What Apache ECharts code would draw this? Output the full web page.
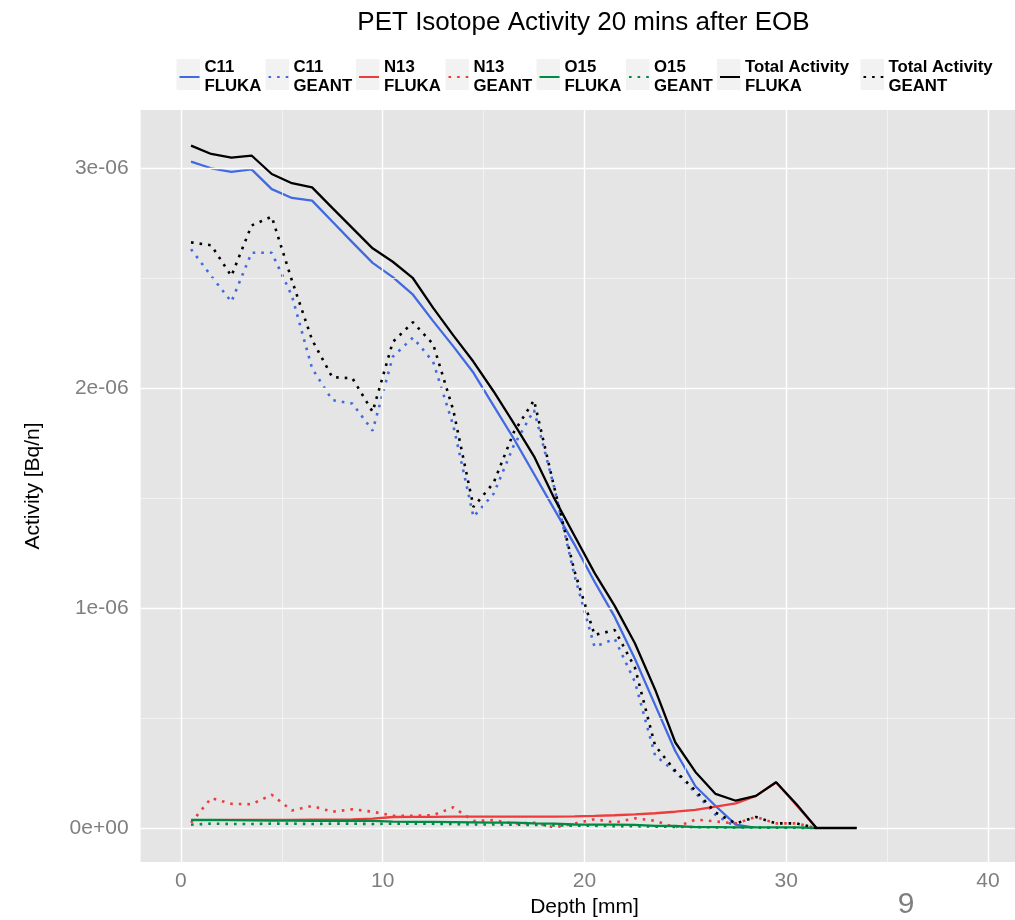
<!DOCTYPE html>
<html>
<head>
<meta charset="utf-8">
<title>PET Isotope Activity 20 mins after EOB</title>
<script src="https://cdn.jsdelivr.net/npm/echarts@6/dist/echarts.min.js"></script>
<style>
  html, body { margin: 0; padding: 0; background: #ffffff; }
  #chart { width: 1015px; height: 920px; }
</style>
</head>
<body>
<div id="chart"></div>
<script>
// Depth bins [mm]
const DEPTH_MM = [0.5, 1.5, 2.5, 3.5, 4.5, 5.5, 6.5, 7.5, 8.5, 9.5, 10.5, 11.5, 12.5, 13.5, 14.5, 15.5, 16.5,
  17.5, 18.5, 19.5, 20.5, 21.5, 22.5, 23.5, 24.5, 25.5, 26.5, 27.5, 28.5, 29.5, 30.5, 31.5, 32.5, 33.5];

// Activity values, in units of 1e-6 Bq/n, one per depth bin
const C11_FLUKA = [3.03, 3.00, 2.984, 2.995, 2.905, 2.865, 2.853, 2.758, 2.663, 2.57, 2.505, 2.425, 2.305,
  2.19, 2.07, 1.92, 1.77, 1.61, 1.45, 1.29, 1.12, 0.96, 0.77, 0.56, 0.35, 0.19, 0.10, 0.015, 0];
const C11_GEANT = [2.632, 2.51, 2.393, 2.616, 2.616, 2.42, 2.09, 1.946, 1.93, 1.807, 2.143, 2.23, 2.12,
  1.83, 1.415, 1.52, 1.74, 1.90, 1.55, 1.15, 0.824, 0.86, 0.665, 0.33, 0.256, 0.16, 0.06, 0.005];
const N13_FLUKA = [0.036, 0.036, 0.037, 0.037, 0.037, 0.037, 0.038, 0.038, 0.039, 0.043, 0.050, 0.051, 0.051,
  0.052, 0.052, 0.052, 0.052, 0.052, 0.052, 0.053, 0.055, 0.058, 0.062, 0.067, 0.074, 0.082, 0.097, 0.112,
  0.146, 0.208, 0.105, 0];
const N13_GEANT = [0.024, 0.136, 0.11, 0.108, 0.151, 0.08, 0.10, 0.074, 0.085, 0.074, 0.056, 0.056, 0.058,
  0.094, 0.032, 0.036, 0.02, 0.024, 0.003, 0.02, 0.04, 0.025, 0.044, 0.033, 0.003, 0.038, 0.03, 0.021,
  0.05, 0.021, 0.021, 0];
const O15_FLUKA = [0.037, 0.037, 0.036, 0.035, 0.034, 0.034, 0.033, 0.033, 0.033, 0.032, 0.029, 0.028, 0.028,
  0.027, 0.026, 0.024, 0.024, 0.021, 0.020, 0.016, 0.015, 0.015, 0.014, 0.010, 0.009, 0.004, 0.004, 0.003,
  0.003, 0.003, 0.003, 0];
const O15_GEANT = [0.015, 0.02, 0.018, 0.018, 0.02, 0.02, 0.018, 0.02, 0.02, 0.018, 0.02, 0.02, 0.019,
  0.018, 0.016, 0.016, 0.015, 0.014, 0.012, 0.01, 0.01, 0.008, 0.008, 0.006, 0.005, 0.004, 0.003, 0.002,
  0.002, 0.001, 0.001, 0];
const TOTAL_FLUKA = [3.103, 3.065, 3.048, 3.058, 2.974, 2.932, 2.913, 2.82, 2.728, 2.636, 2.575, 2.50, 2.365,
  2.24, 2.12, 1.985, 1.84, 1.69, 1.50, 1.33, 1.16, 1.01, 0.84, 0.63, 0.39, 0.255, 0.155, 0.124, 0.146,
  0.208, 0.109, 0, 0, 0];
const TOTAL_GEANT = [2.663, 2.65, 2.51, 2.74, 2.78, 2.49, 2.22, 2.05, 2.045, 1.893, 2.21, 2.30, 2.20,
  1.90, 1.46, 1.57, 1.80, 1.945, 1.55, 1.17, 0.878, 0.90, 0.73, 0.375, 0.26, 0.17, 0.07, 0.021, 0.05,
  0.021, 0.021, 0];

// Axis tick values (y in units of 1e-6 Bq/n)
const X_TICKS = [0, 10, 20, 30, 40];
const X_MINOR = [5, 15, 25, 35];
const Y_TICKS = [0, 1, 2, 3];
const Y_MINOR = [0.5, 1.5, 2.5];

const UNIT = 1e-6;
const FONT = 'Liberation Sans, Arial, sans-serif';

const SERIES = [
  { name: 'C11 FLUKA', values: C11_FLUKA, color: '#4169E1', dotted: false },
  { name: 'C11 GEANT', values: C11_GEANT, color: '#4169E1', dotted: true },
  { name: 'N13 FLUKA', values: N13_FLUKA, color: '#EE3B3B', dotted: false },
  { name: 'N13 GEANT', values: N13_GEANT, color: '#EE3B3B', dotted: true },
  { name: 'O15 FLUKA', values: O15_FLUKA, color: '#008B45', dotted: false },
  { name: 'O15 GEANT', values: O15_GEANT, color: '#008B45', dotted: true },
  { name: 'Total Activity FLUKA', values: TOTAL_FLUKA, color: '#000000', dotted: false },
  { name: 'Total Activity GEANT', values: TOTAL_GEANT, color: '#000000', dotted: true }
];

// left edge of each legend key box
const KEY_LEFT = [176.5, 265.5, 356, 445.5, 536.5, 626, 717, 860.5];

// scientific label in the "3e-06" style
function sci(v) {
  if (v === 0) return '0e+00';
  const e = Math.floor(Math.log10(Math.abs(v)) + 1e-9);
  const m = Math.round(v / Math.pow(10, e));
  const ae = Math.abs(e);
  return m + 'e' + (e < 0 ? '-' : '+') + (ae < 10 ? '0' + ae : ae);
}

function pairs(vals) {
  return vals.map((v, i) => [DEPTH_MM[i], v]);
}

const minorStyle = { color: '#F5F5F5', width: 0.8, type: 'solid' };
const majorStyle = { color: '#FFFFFF', width: 1.4, type: 'solid' };
const gridLines = []
  .concat(X_MINOR.map(v => ({ xAxis: v, lineStyle: minorStyle })))
  .concat(Y_MINOR.map(v => ({ yAxis: v, lineStyle: minorStyle })))
  .concat(X_TICKS.map(v => ({ xAxis: v, lineStyle: majorStyle })))
  .concat(Y_TICKS.map(v => ({ yAxis: v, lineStyle: majorStyle })));

const chart = echarts.init(document.getElementById('chart'), null, { renderer: 'canvas' });

const option = {
  animation: false,
  backgroundColor: '#ffffff',
  textStyle: { fontFamily: FONT },
  grid: {
    left: 140.6, top: 110, width: 887.7, height: 752,
    show: true, backgroundColor: '#E5E5E5', borderWidth: 0,
    containLabel: false, outerBoundsMode: 'none'
  },
  xAxis: {
    type: 'value', min: -2, max: 42,
    name: 'Depth [mm]', nameLocation: 'middle', nameGap: 32,
    nameTextStyle: { fontFamily: FONT, fontSize: 21, color: '#000000' },
    axisLine: { show: false },
    axisTick: { show: true, length: 5, customValues: X_TICKS, lineStyle: { color: '#4D4D4D', width: 1 } },
    axisLabel: { customValues: X_TICKS, margin: 9, fontFamily: FONT, fontSize: 21, color: '#7F7F7F' },
    splitLine: { show: false }
  },
  yAxis: {
    type: 'value', min: -0.1546, max: 3.265,
    name: 'Activity [Bq/n]', nameLocation: 'middle', nameGap: 97, nameRotate: 90,
    nameTextStyle: { fontFamily: FONT, fontSize: 21, color: '#000000' },
    axisLine: { show: false },
    axisTick: { show: true, length: 5, customValues: Y_TICKS, lineStyle: { color: '#4D4D4D', width: 1 } },
    axisLabel: { customValues: Y_TICKS, margin: 12, fontFamily: FONT, fontSize: 21, color: '#7F7F7F',
      formatter: v => sci(v * UNIT) },
    splitLine: { show: false }
  },
  legend: SERIES.map((s, i) => ({
    data: [s.name],
    left: KEY_LEFT[i] + 2,
    top: 55,
    padding: 0,
    itemGap: 0,
    itemWidth: 20,
    itemHeight: 14,
    selectedMode: false,
    itemStyle: { color: 'rgba(0,0,0,0)', borderWidth: 0, opacity: 0 },
    formatter: name => name.replace(/ (\S+)$/, '\n$1'),
    textStyle: { fontFamily: FONT, fontSize: 16.8, fontWeight: 'bold', color: '#000000',
      lineHeight: 19, padding: [6, 0, 0, 0] }
  })),
  graphic: [
    {
      type: 'text', x: 583.5, y: 23, z: 10,
      style: { text: 'PET Isotope Activity 20 mins after EOB', fontFamily: FONT, fontSize: 26,
        fill: '#000000', textAlign: 'center', textVerticalAlign: 'middle' }
    },
    {
      type: 'text', x: 906, y: 905, z: 10,
      style: { text: '9', fontFamily: FONT, fontSize: 30, fill: '#7F7F7F',
        textAlign: 'center', textVerticalAlign: 'middle' }
    }
  ].concat(KEY_LEFT.map(x => ({
    type: 'rect', z: 0,
    shape: { x: x, y: 59, width: 23.5, height: 31 },
    style: { fill: '#F2F2F2' }
  }))),
  series: [
    {
      type: 'line', name: 'gridlines', data: [], z: 1, silent: true,
      markLine: { silent: true, symbol: ['none', 'none'], label: { show: false }, animation: false,
        emphasis: { disabled: true }, data: gridLines }
    }
  ].concat(SERIES.map((s, i) => ({
    type: 'line',
    name: s.name,
    data: pairs(s.values),
    z: 3 + i,
    symbol: 'none',
    showSymbol: false,
    smooth: false,
    color: s.color,
    lineStyle: s.dotted
      ? { color: s.color, width: 2.6, type: [2.6, 6], cap: 'butt' }
      : { color: s.color, width: 2.3, type: 'solid' },
    emphasis: { disabled: true }
  })))
};

chart.setOption(option);
</script>
</body>
</html>
